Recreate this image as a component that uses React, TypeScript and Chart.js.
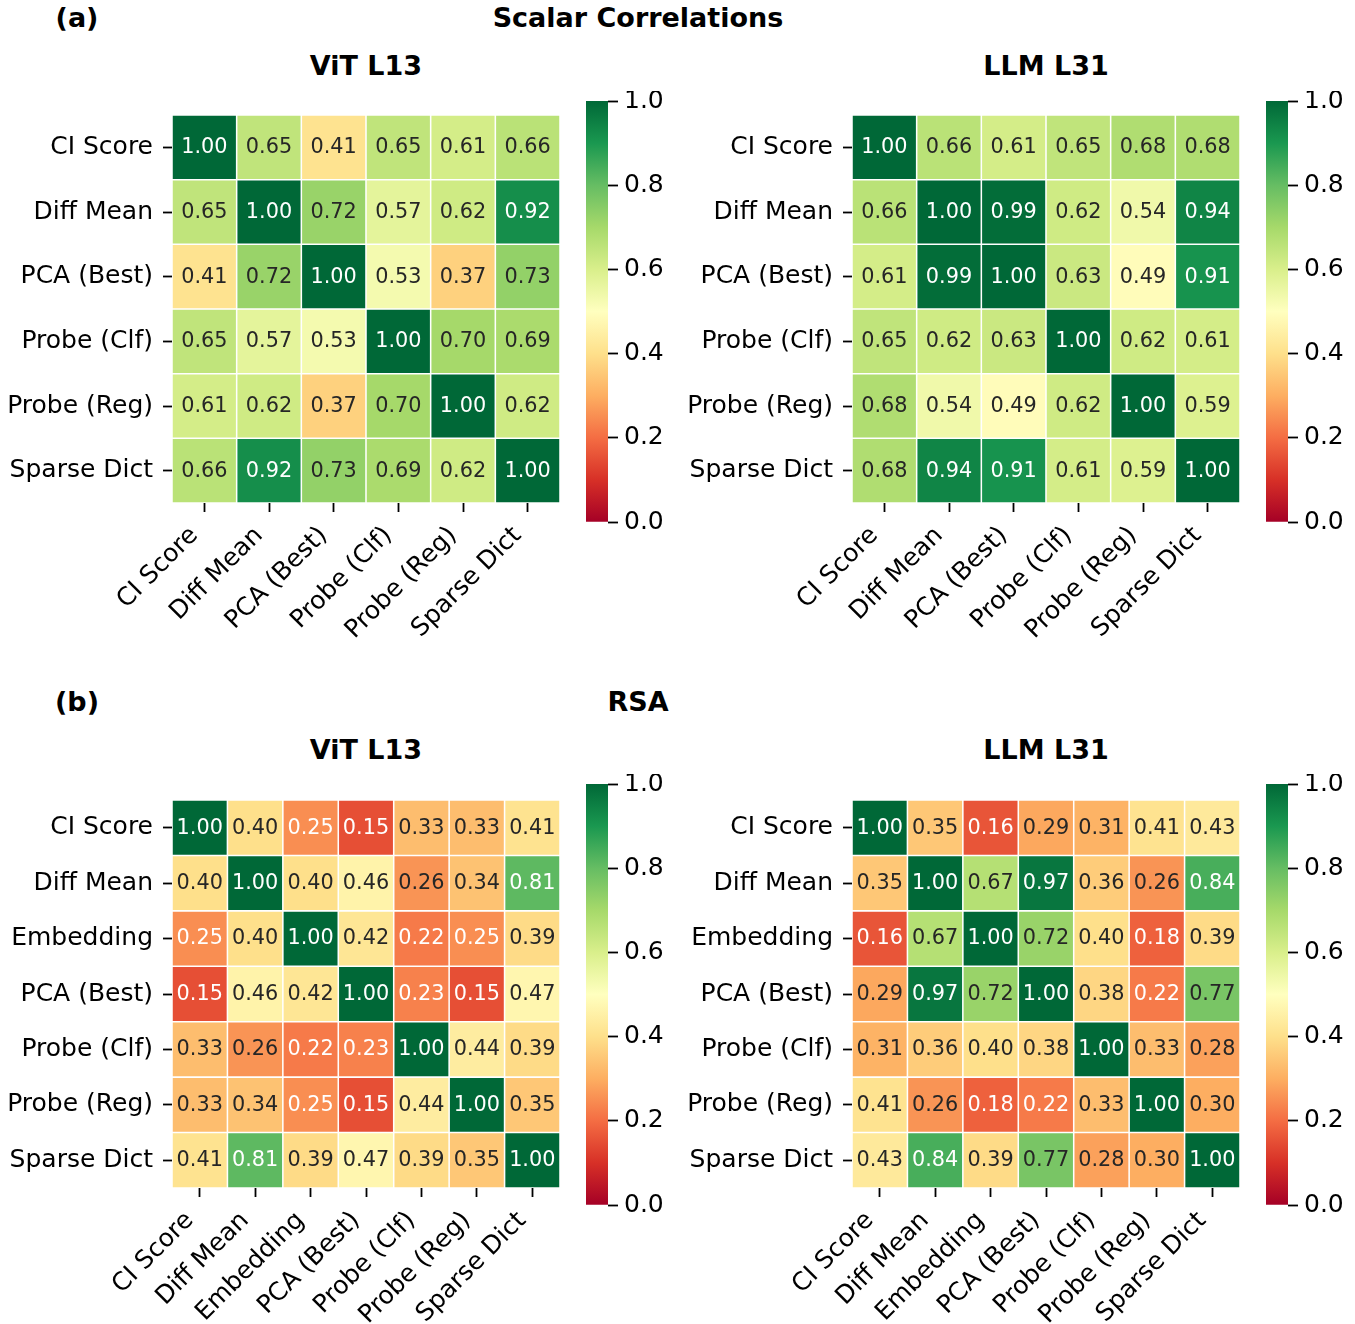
import React, { useEffect, useRef } from "react";
import { Chart, registerables } from "chart.js";

Chart.register(...registerables);

const FONT = "'DejaVu Sans', sans-serif";

// Method names on both axes of the heatmaps
const scalarMethods = ["CI Score", "Diff Mean", "PCA (Best)", "Probe (Clf)", "Probe (Reg)", "Sparse Dict"];
const rsaMethods = ["CI Score", "Diff Mean", "Embedding", "PCA (Best)", "Probe (Clf)", "Probe (Reg)", "Sparse Dict"];

// (a) Scalar correlations
const vitScalar = [
  [1.0, 0.65, 0.41, 0.65, 0.61, 0.66],
  [0.65, 1.0, 0.72, 0.57, 0.62, 0.92],
  [0.41, 0.72, 1.0, 0.53, 0.37, 0.73],
  [0.65, 0.57, 0.53, 1.0, 0.7, 0.69],
  [0.61, 0.62, 0.37, 0.7, 1.0, 0.62],
  [0.66, 0.92, 0.73, 0.69, 0.62, 1.0],
];
const llmScalar = [
  [1.0, 0.66, 0.61, 0.65, 0.68, 0.68],
  [0.66, 1.0, 0.99, 0.62, 0.54, 0.94],
  [0.61, 0.99, 1.0, 0.63, 0.49, 0.91],
  [0.65, 0.62, 0.63, 1.0, 0.62, 0.61],
  [0.68, 0.54, 0.49, 0.62, 1.0, 0.59],
  [0.68, 0.94, 0.91, 0.61, 0.59, 1.0],
];

// (b) RSA
const vitRsa = [
  [1.0, 0.4, 0.25, 0.15, 0.33, 0.33, 0.41],
  [0.4, 1.0, 0.4, 0.46, 0.26, 0.34, 0.81],
  [0.25, 0.4, 1.0, 0.42, 0.22, 0.25, 0.39],
  [0.15, 0.46, 0.42, 1.0, 0.23, 0.15, 0.47],
  [0.33, 0.26, 0.22, 0.23, 1.0, 0.44, 0.39],
  [0.33, 0.34, 0.25, 0.15, 0.44, 1.0, 0.35],
  [0.41, 0.81, 0.39, 0.47, 0.39, 0.35, 1.0],
];
const llmRsa = [
  [1.0, 0.35, 0.16, 0.29, 0.31, 0.41, 0.43],
  [0.35, 1.0, 0.67, 0.97, 0.36, 0.26, 0.84],
  [0.16, 0.67, 1.0, 0.72, 0.4, 0.18, 0.39],
  [0.29, 0.97, 0.72, 1.0, 0.38, 0.22, 0.77],
  [0.31, 0.36, 0.4, 0.38, 1.0, 0.33, 0.28],
  [0.41, 0.26, 0.18, 0.22, 0.33, 1.0, 0.3],
  [0.43, 0.84, 0.39, 0.77, 0.28, 0.3, 1.0],
];

const colorbarTicks = [0, 0.2, 0.4, 0.6, 0.8, 1.0];

// RdYlGn anchor colours (ColorBrewer, 11 classes), low -> high
const RDYLGN: number[][] = [
  [165, 0, 38], [215, 48, 39], [244, 109, 67], [253, 174, 97], [254, 224, 139],
  [255, 255, 191], [217, 239, 139], [166, 217, 106], [102, 189, 99], [26, 152, 80], [0, 104, 55],
];

function rdylgn(v: number): number[] {
  const t = Math.min(1, Math.max(0, v)) * 10;
  const i = Math.min(9, Math.floor(t));
  const f = t - i;
  const a = RDYLGN[i];
  const b = RDYLGN[i + 1];
  return [0, 1, 2].map((k) => a[k] + (b[k] - a[k]) * f);
}

const rgbStr = (c: number[]) => `rgb(${Math.round(c[0])},${Math.round(c[1])},${Math.round(c[2])})`;

// dark text on light cells, white text on dark cells
function textColorFor(c: number[]): string {
  const lin = c.map((x) => {
    const s = x / 255;
    return s <= 0.03928 ? s / 12.92 : Math.pow((s + 0.055) / 1.055, 2.4);
  });
  const lum = 0.2126 * lin[0] + 0.7152 * lin[1] + 0.0722 * lin[2];
  return lum > 0.408 ? "#262626" : "#ffffff";
}

const TICK_FONT = { family: FONT, size: 25 };

// keep the plot area exactly where the layout puts it: no extra room for edge labels
function noEdgePadding(s: any) {
  s.paddingTop = 0;
  s.paddingBottom = 0;
  s.paddingLeft = 0;
  s.paddingRight = 0;
}

function heatmapConfig(labels: string[], matrix: number[][], axisW: number, axisH: number): any {
  const n = labels.length;
  const datasets = matrix.map((row, r) => ({
    data: row.map(() => [r, r + 1]),
    backgroundColor: row.map((v) => rgbStr(rdylgn(v))),
    borderColor: "#ffffff",
    borderWidth: 1.1,
    borderSkipped: false,
    barPercentage: 1,
    categoryPercentage: 1,
    grouped: false,
  }));

  const cellValues = {
    id: "cellValues",
    afterDatasetsDraw(chart: any) {
      const ctx = chart.ctx;
      ctx.save();
      ctx.font = `20.8px ${FONT}`;
      ctx.textAlign = "center";
      ctx.textBaseline = "middle";
      matrix.forEach((row, r) => {
        const meta = chart.getDatasetMeta(r);
        meta.data.forEach((el: any, i: number) => {
          const v = row[i];
          const p = el.getProps(["x", "y", "base"], true);
          ctx.fillStyle = textColorFor(rdylgn(v));
          ctx.fillText(v.toFixed(2), p.x, (p.y + p.base) / 2 + 0.5);
        });
      });
      ctx.restore();
    },
  };

  const tickGrid = {
    drawOnChartArea: false,
    drawTicks: true,
    tickLength: 9,
    tickWidth: 1.8,
    tickColor: "#000000",
    offset: false,
  };

  return {
    type: "bar",
    data: { labels, datasets },
    plugins: [cellValues],
    options: {
      responsive: false,
      animation: false,
      devicePixelRatio: 1,
      layout: { padding: { top: 10, left: 0, right: 0, bottom: 0 } },
      plugins: { legend: { display: false }, tooltip: { enabled: false }, title: { display: false } },
      scales: {
        x: {
          type: "category",
          offset: true,
          grid: tickGrid,
          border: { display: false },
          ticks: {
            font: TICK_FONT,
            color: "#000000",
            minRotation: 45,
            maxRotation: 45,
            autoSkip: false,
            padding: 9,
            labelOffset: -10,
          },
          afterFit: (s: any) => {
            s.height = axisH;
            noEdgePadding(s);
          },
        },
        y: {
          type: "linear",
          min: 0,
          max: n,
          reverse: true,
          grid: tickGrid,
          border: { display: false },
          afterBuildTicks: (s: any) => {
            s.ticks = labels.map((_, i) => ({ value: i + 0.5 }));
          },
          ticks: {
            font: TICK_FONT,
            color: "#000000",
            padding: 10,
            autoSkip: false,
            callback: (v: number) => labels[Math.floor(v)],
          },
          afterFit: (s: any) => {
            s.width = axisW;
            noEdgePadding(s);
          },
        },
      },
    },
  };
}

function colorbarConfig(axisW: number): any {
  return {
    type: "bar",
    data: {
      labels: [""],
      datasets: [
        {
          data: [[0, 1]],
          borderWidth: 0,
          barPercentage: 1,
          categoryPercentage: 1,
          backgroundColor: (c: any) => {
            const ca = c.chart.chartArea;
            if (!ca) return "transparent";
            const g = c.chart.ctx.createLinearGradient(0, ca.bottom, 0, ca.top);
            RDYLGN.forEach((col, i) => g.addColorStop(i / (RDYLGN.length - 1), rgbStr(col)));
            return g;
          },
        },
      ],
    },
    options: {
      responsive: false,
      animation: false,
      devicePixelRatio: 1,
      layout: { padding: { top: 10, left: 0, right: 0, bottom: 10 } },
      plugins: { legend: { display: false }, tooltip: { enabled: false } },
      scales: {
        x: { display: false },
        y: {
          position: "right",
          min: 0,
          max: 1,
          border: { display: false },
          grid: { drawOnChartArea: false, tickLength: 10, tickWidth: 1.8, tickColor: "#000000" },
          afterBuildTicks: (s: any) => {
            s.ticks = colorbarTicks.map((v) => ({ value: v }));
          },
          ticks: {
            font: TICK_FONT,
            color: "#000000",
            padding: 6,
            callback: (v: number) => v.toFixed(1),
          },
          afterFit: (s: any) => {
            s.width = axisW;
            noEdgePadding(s);
          },
        },
      },
    },
  };
}

function ChartCanvas({ left, top, width, height, make }: { left: number; top: number; width: number; height: number; make: () => any }) {
  const ref = useRef<HTMLCanvasElement>(null);
  useEffect(() => {
    const chart = new Chart(ref.current as HTMLCanvasElement, make());
    return () => chart.destroy();
  }, []);
  return (
    <canvas
      ref={ref}
      width={width}
      height={height}
      style={{ position: "absolute", left, top, width, height, display: "block" }}
    />
  );
}

function Label({ cx, top, text }: { cx: number; top: number; text: string }) {
  return (
    <div
      style={{
        position: "absolute",
        left: cx - 250,
        top,
        width: 500,
        textAlign: "center",
        fontFamily: FONT,
        fontWeight: "bold",
        fontSize: 27,
        lineHeight: "27px",
        color: "#000",
        whiteSpace: "nowrap",
      }}
    >
      {text}
    </div>
  );
}

export default function App() {
  const rowA = 0;
  const rowB = 684;
  const axisHA = 150;
  const axisHB = 136;
  return (
    <div
      style={{
        position: "absolute",
        left: 0,
        top: 0,
        width: 1355,
        height: 1324,
        overflow: "hidden",
        background: "#ffffff",
      }}
    >
      <Label cx={77} top={rowA + 4} text="(a)" />
      <Label cx={638} top={rowA + 4} text="Scalar Correlations" />
      <Label cx={366} top={rowA + 52} text="ViT L13" />
      <Label cx={1046} top={rowA + 52} text="LLM L31" />

      <ChartCanvas left={0} top={rowA + 105} width={560} height={10 + 388 + axisHA} make={() => heatmapConfig(scalarMethods, vitScalar, 172, axisHA)} />
      <ChartCanvas left={586} top={rowA + 91} width={92} height={441} make={() => colorbarConfig(70)} />
      <ChartCanvas left={680} top={rowA + 105} width={560} height={10 + 388 + axisHA} make={() => heatmapConfig(scalarMethods, llmScalar, 172, axisHA)} />
      <ChartCanvas left={1266} top={rowA + 91} width={89} height={441} make={() => colorbarConfig(67)} />

      <Label cx={77} top={rowB + 4} text="(b)" />
      <Label cx={638} top={rowB + 4} text="RSA" />
      <Label cx={366} top={rowB + 52} text="ViT L13" />
      <Label cx={1046} top={rowB + 52} text="LLM L31" />

      <ChartCanvas left={0} top={rowB + 106} width={560} height={10 + 388 + axisHB} make={() => heatmapConfig(rsaMethods, vitRsa, 172, axisHB)} />
      <ChartCanvas left={586} top={rowB + 90} width={92} height={441} make={() => colorbarConfig(70)} />
      <ChartCanvas left={680} top={rowB + 106} width={560} height={10 + 388 + axisHB} make={() => heatmapConfig(rsaMethods, llmRsa, 172, axisHB)} />
      <ChartCanvas left={1266} top={rowB + 90} width={89} height={441} make={() => colorbarConfig(67)} />
    </div>
  );
}
